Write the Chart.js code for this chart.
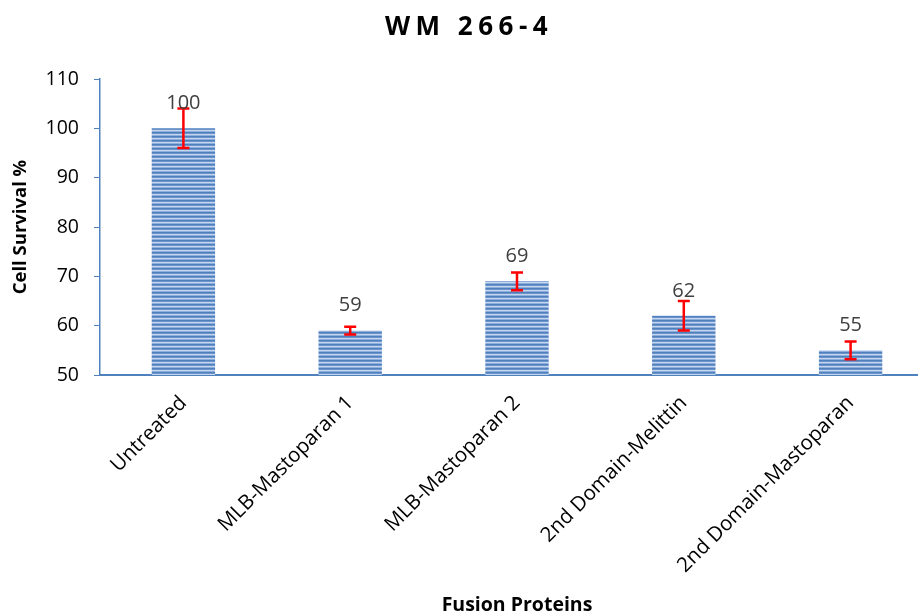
<!DOCTYPE html>
<html>
<head>
<meta charset="utf-8">
<script src="https://cdn.jsdelivr.net/npm/chart.js@4.4.1/dist/chart.umd.min.js"></script>
<style>
  html, body { margin: 0; padding: 0; overflow: hidden; background: #ffffff; }
  #wrap { width: 934px; height: 616px; position: relative; }
</style>
</head>
<body>
<div id="wrap"><canvas id="chart"></canvas></div>
<script>
// Cell survival of WM 266-4 cells after treatment with each fusion protein
const categories = ['Untreated', 'MLB-Mastoparan 1', 'MLB-Mastoparan 2', '2nd Domain-Melittin', '2nd Domain-Mastoparan'];
const survival = [100, 59, 69, 62, 55];
const errors = [4, 0.8, 1.8, 3, 1.8];
const yTicks = [50, 60, 70, 80, 90, 100, 110];

const FONT = "'Open Sans', 'Liberation Sans', sans-serif";
const AXIS_BLUE = '#4f81bd';

// Horizontal stripe fill for the bars
function stripePattern() {
  const c = document.createElement('canvas');
  c.width = 4; c.height = 4;
  const g = c.getContext('2d');
  const rows = ['#4f80bc', '#6a94cb', '#c4d5ed', '#8eaedb'];
  rows.forEach((col, i) => { g.fillStyle = col; g.fillRect(0, i, 4, 1); });
  return g.createPattern(c, 'repeat');
}

// Chart title with wide letter spacing
const titlePlugin = {
  id: 'spacedTitle',
  afterDraw(chart) {
    const ctx = chart.ctx;
    ctx.save();
    ctx.font = "bold 26px " + FONT;
    ctx.fillStyle = '#000000';
    ctx.textAlign = 'center';
    ctx.textBaseline = 'middle';
    ctx.letterSpacing = '5.5px';
    ctx.fillText('WM 266-4', chart.width / 2 + 2, 28);
    ctx.restore();
  }
};

// Red error bars and value labels above each bar
const errorBarPlugin = {
  id: 'errorBars',
  afterDatasetsDraw(chart) {
    const ctx = chart.ctx;
    const yScale = chart.scales.y;
    const meta = chart.getDatasetMeta(0);
    ctx.save();
    meta.data.forEach((bar, i) => {
      const v = survival[i], e = errors[i];
      const yHi = yScale.getPixelForValue(v + e);
      const yLo = yScale.getPixelForValue(v - e);
      const x = bar.x;
      ctx.strokeStyle = '#ff0000';
      ctx.lineWidth = 2.5;
      ctx.beginPath();
      ctx.moveTo(x, yHi); ctx.lineTo(x, yLo);
      ctx.moveTo(x - 6, yHi); ctx.lineTo(x + 6, yHi);
      ctx.moveTo(x - 6, yLo); ctx.lineTo(x + 6, yLo);
      ctx.stroke();
    });
    ctx.font = "20px " + FONT;
    ctx.fillStyle = '#404040';
    ctx.textAlign = 'center';
    ctx.textBaseline = 'middle';
    meta.data.forEach((bar, i) => {
      ctx.fillText(String(survival[i]), bar.x, bar.y - 25);
    });
    ctx.restore();
  }
};

new Chart(document.getElementById('chart'), {
  type: 'bar',
  data: {
    labels: categories,
    datasets: [{
      data: survival,
      backgroundColor: stripePattern(),
      borderWidth: 0,
      barPercentage: 0.38,
      categoryPercentage: 1.0
    }]
  },
  options: {
    responsive: true,
    maintainAspectRatio: false,
    animation: false,
    layout: { padding: { top: 79, left: 0, right: 0, bottom: 0 } },
    plugins: {
      legend: { display: false },
      tooltip: { enabled: false },
      title: { display: false }
    },
    scales: {
      x: {
        afterFit(s) { s.height = 241; },
        grid: { display: true, drawOnChartArea: false, drawTicks: false },
        border: { display: true, color: AXIS_BLUE, width: 2 },
        ticks: {
          color: '#000000',
          font: { family: FONT, size: 20.5 },
          minRotation: 45,
          maxRotation: 45,
          padding: 16,
          autoSkip: false
        },
        title: {
          display: true,
          text: 'Fusion Proteins',
          color: '#000000',
          font: { family: FONT, size: 19.5, weight: 'bold', lineHeight: 1.2 },
          padding: { top: 0, bottom: -1 }
        }
      },
      y: {
        min: 50,
        max: 110,
        afterFit(s) { s.width = 100; },
        afterBuildTicks(s) { s.ticks = yTicks.map(v => ({ value: v })); },
        grid: { display: true, drawOnChartArea: false, drawTicks: true, tickLength: 6, color: AXIS_BLUE },
        border: { display: true, color: AXIS_BLUE, width: 1.5 },
        ticks: {
          color: '#000000',
          font: { family: FONT, size: 19.5 },
          padding: 15
        },
        title: {
          display: true,
          text: 'Cell Survival %',
          color: '#000000',
          font: { family: FONT, size: 18.5, weight: 'bold', lineHeight: 1.2 },
          padding: { top: 10, bottom: 0 }
        }
      }
    }
  },
  plugins: [titlePlugin, errorBarPlugin]
});
</script>
</body>
</html>
